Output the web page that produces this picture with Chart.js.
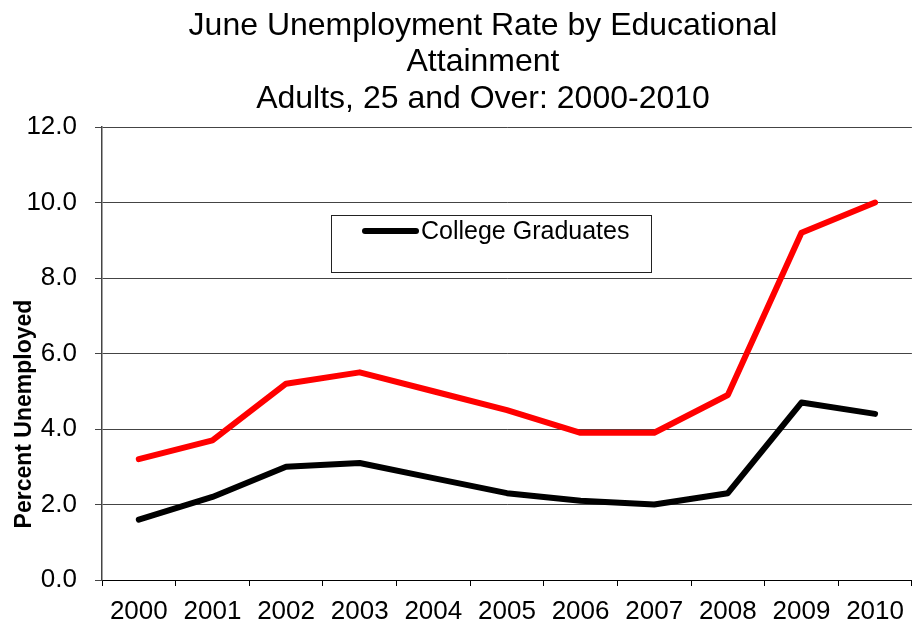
<!DOCTYPE html>
<html>
<head>
<meta charset="utf-8">
<script src="https://cdn.jsdelivr.net/npm/chart.js@4.4.0/dist/chart.umd.min.js"></script>
<style>
  html, body { margin: 0; padding: 0; background: #fff; }
  #wrap { width: 914px; height: 632px; }
</style>
</head>
<body>
<div id="wrap"><canvas id="chart" width="914" height="632"></canvas></div>
<script>
// Data
const years = ['2000', '2001', '2002', '2003', '2004', '2005', '2006', '2007', '2008', '2009', '2010'];
const highSchool = [3.2, 3.7, 5.2, 5.5, 5.0, 4.5, 3.9, 3.9, 4.9, 9.2, 10.0];
const collegeGrads = [1.6, 2.2, 3.0, 3.1, 2.7, 2.3, 2.1, 2.0, 2.3, 4.7, 4.4];
const titleLines = ['June Unemployment Rate by Educational', 'Attainment', 'Adults, 25 and Over: 2000-2010'];
const yTitle = 'Percent Unemployed';
const legendLabel = 'College Graduates';

const FONT = "'Liberation Sans', Arial, Helvetica, sans-serif";
Chart.defaults.font.family = FONT;
Chart.defaults.color = '#000';

// Title, rotated y title and the boxed legend (only one series is listed)
const extras = {
    id: 'extras',
    afterDraw(chart) {
        const ctx = chart.ctx;

        // chart title, centred a bit right of the canvas middle
        ctx.save();
        ctx.font = '32px ' + FONT;
        ctx.fillStyle = '#000';
        ctx.textAlign = 'center';
        ctx.textBaseline = 'middle';
        titleLines.forEach((line, i) => {
            ctx.fillText(line, 483, 26 + i * 36.5);
        });
        ctx.restore();

        // y axis title
        ctx.save();
        ctx.translate(25, 414);
        ctx.rotate(-Math.PI / 2);
        ctx.font = 'bold 23px ' + FONT;
        ctx.fillStyle = '#000';
        ctx.textAlign = 'center';
        ctx.textBaseline = 'middle';
        ctx.fillText(yTitle, 0, 0);
        ctx.restore();

        // legend box
        ctx.save();
        ctx.fillStyle = '#fff';
        ctx.fillRect(331, 215, 320, 57);
        ctx.strokeStyle = '#222';
        ctx.lineWidth = 1;
        ctx.strokeRect(331.5, 215.5, 320, 57);
        ctx.strokeStyle = '#000';
        ctx.lineWidth = 6;
        ctx.lineCap = 'round';
        ctx.beginPath();
        ctx.moveTo(365, 231);
        ctx.lineTo(416, 231);
        ctx.stroke();
        ctx.font = '25px ' + FONT;
        ctx.fillStyle = '#000';
        ctx.textBaseline = 'middle';
        ctx.fillText(legendLabel, 421, 232);
        ctx.restore();
    }
};

new Chart(document.getElementById('chart'), {
    type: 'line',
    data: {
        labels: years,
        datasets: [
            {
                label: 'High School Graduates',
                data: highSchool,
                borderColor: '#ff0000',
                borderWidth: 6,
                borderJoinStyle: 'round',
                borderCapStyle: 'round',
                pointRadius: 0,
                tension: 0
            },
            {
                label: legendLabel,
                data: collegeGrads,
                borderColor: '#000000',
                borderWidth: 6,
                borderJoinStyle: 'round',
                borderCapStyle: 'round',
                pointRadius: 0,
                tension: 0
            }
        ]
    },
    options: {
        responsive: false,
        animation: false,
        devicePixelRatio: 1,
        layout: { padding: { top: 127, right: -4 } },
        plugins: {
            legend: { display: false },
            tooltip: { enabled: false },
            title: { display: false }
        },
        scales: {
            x: {
                offset: true,
                grid: {
                    offset: true,
                    drawOnChartArea: false,
                    drawTicks: true,
                    tickLength: 6,
                    color: '#000'
                },
                border: { color: '#000', width: 1 },
                ticks: {
                    font: { size: 26 },
                    color: '#000',
                    padding: 10,
                    maxRotation: 0,
                    autoSkip: false
                },
                afterFit(scale) { scale.height = 52; }
            },
            y: {
                min: 0,
                max: 12,
                grid: {
                    color: '#444',
                    lineWidth: 1,
                    tickLength: 7,
                    drawTicks: true
                },
                border: { color: '#444', width: 1.5 },
                ticks: {
                    stepSize: 2,
                    font: { size: 26 },
                    color: '#000',
                    padding: 18,
                    callback: (v) => v.toFixed(1)
                },
                afterFit(scale) { scale.width = 102; }
            }
        }
    },
    plugins: [extras]
});
</script>
</body>
</html>
